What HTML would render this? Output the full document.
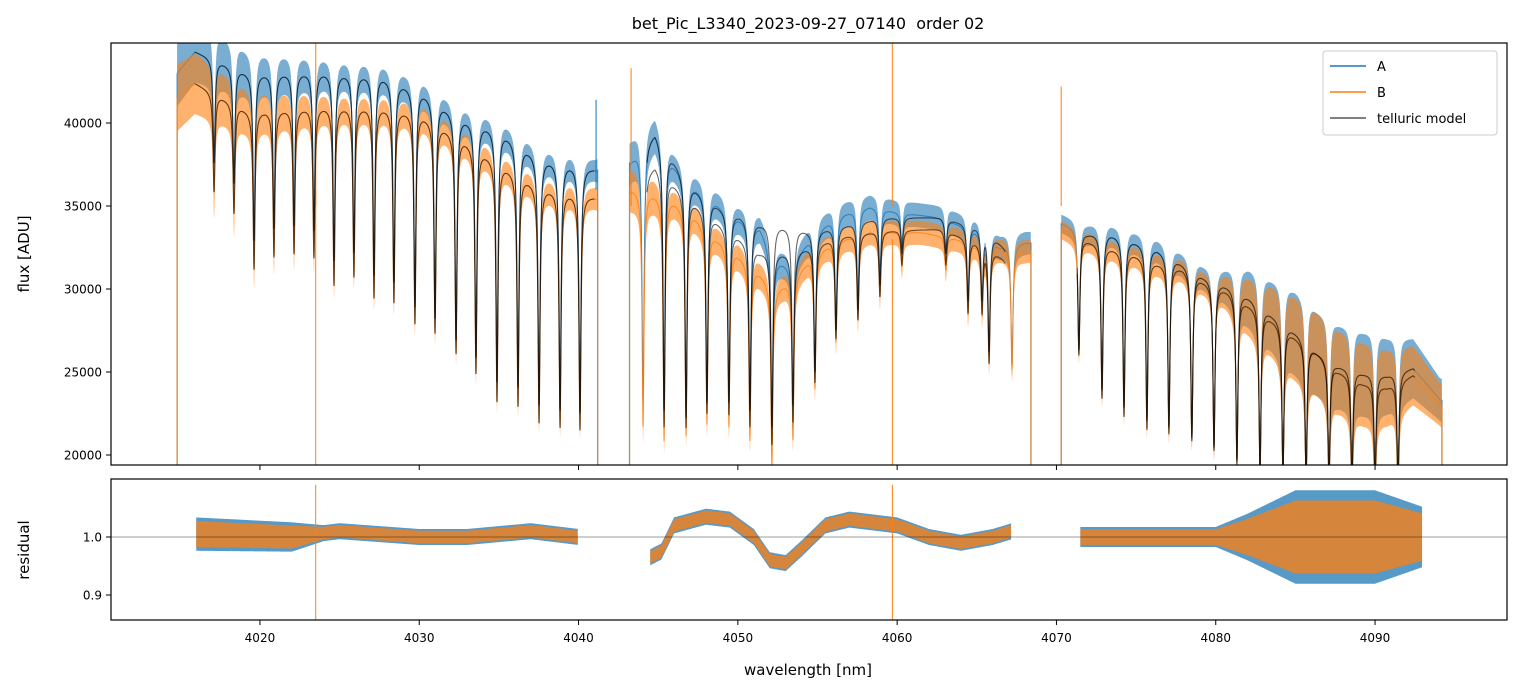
<!DOCTYPE html>
<html><head><meta charset="utf-8"><style>
html,body{margin:0;padding:0;background:#fff;}
svg{display:block;font-family:"DejaVu Sans","Liberation Sans",sans-serif;}
</style></head><body>
<svg id="chart" width="1520" height="696" viewBox="0 0 1520 696" xmlns="http://www.w3.org/2000/svg">
<defs>
<clipPath id="clipTop"><rect x="111" y="43" width="1396" height="422"/></clipPath>
<clipPath id="clipBot"><rect x="111" y="479" width="1396" height="141"/></clipPath>
</defs>
<rect width="1520" height="696" fill="#fff"/>
<text x="808" y="29" text-anchor="middle" font-size="16" fill="#000" style="white-space:pre">bet_Pic_L3340_2023-09-27_07140&#160; order 02</text>
<g id="topData" clip-path="url(#clipTop)"></g>
<g id="botData" clip-path="url(#clipBot)"></g>
<g id="axes"></g>
<text transform="translate(29,254) rotate(-90)" text-anchor="middle" font-size="15">flux [ADU]</text>
<text transform="translate(29,550) rotate(-90)" text-anchor="middle" font-size="15">residual</text>
<text x="808" y="675" text-anchor="middle" font-size="15">wavelength [nm]</text>
<g>
<rect x="1323" y="51" width="174" height="84" rx="3" fill="#fff" fill-opacity="0.8" stroke="#ccc"/>
<line x1="1330" y1="66" x2="1366" y2="66" stroke="#1f77b4" stroke-width="1.5"/>
<text x="1377" y="71" font-size="13">A</text>
<line x1="1330" y1="92" x2="1366" y2="92" stroke="#ff7f0e" stroke-width="1.5"/>
<text x="1377" y="97" font-size="13">B</text>
<line x1="1330" y1="118" x2="1366" y2="118" stroke="#555" stroke-width="1.5"/>
<text x="1377" y="123" font-size="13">telluric model</text>
</g>
</svg>
<script>
// ---- data ----
const dataSegments = [[4014.8,4041.2],[4043.2,4068.4],[4070.3,4094.2]];
const modelSegments = [[4015.9,4041.0],[4044.3,4066.8],[4071.3,4092.5]];
const lineWl = [4017.12,4018.37,4019.63,4020.88,4022.14,4023.39,4024.65,4025.9,4027.16,4028.41,4029.73,4030.99,4032.31,4033.56,4034.88,4036.2,4037.52,4038.84,4040.09,
 4044.05,4045.37,4046.75,4048.06,4049.44,4050.76,4052.14,4053.46,4054.84,4056.16,4057.54,4058.92,4060.3,4063.06,4064.45,4065.33,4065.77,4067.21,
 4071.41,4072.86,4074.24,4075.68,4077.06,4078.5,4079.89,4081.33,4082.78,4084.22,4085.67,4087.11,4088.55,4090.0,4091.44];
const lineMin = [37600,36400,32950,33700,33850,33550,31750,32230,30850,30420,28920,28250,26930,25900,24400,24100,23000,22700,22530,
 23310,22710,22290,23130,23190,22710,21690,23010,25000,27530,28730,30240,32170,32170,29340,29520,26330,25300,
 26330,23920,22890,22110,21690,21080,20480,19700,19000,18800,18600,18500,18500,18500,18500];
const modelAWl = [4014.8,4015.92,4019.38,4023.77,4027.54,4030.05,4032.56,4035.07,4037.58,4041.16,4043.1,4044.8,4047.0,4048.9,4051.39,4053.27,4054.6,4056.41,4058.92,4062.69,4065.5,4066.8,4068.4,4070.1,4071.92,4073.36,4074.8,4076.31,4077.95,4079.2,4080.7,4082.15,4083.6,4085.1,4086.36,4087.62,4089.25,4090.75,4092.39,4094.1];
const modelAVal = [43000,44300,43000,43100,42900,42000,40400,39600,37950,37200,37500,39580,36400,35000,34000,33800,33500,33800,34300,34300,33700,32500,33000,34040,33370,33370,32950,32470,31570,30840,30240,29520,28430,27350,26200,25420,24940,24820,25240,23310];
const modelBWl = [4014.8,4015.92,4019.38,4023.77,4027.54,4030.05,4032.56,4035.07,4037.58,4041.16,4043.1,4044.8,4047.0,4048.9,4051.39,4053.27,4054.6,4056.41,4058.92,4062.69,4065.5,4066.8,4068.4,4070.1,4071.92,4073.36,4074.8,4076.31,4077.95,4079.2,4080.7,4082.15,4083.6,4085.1,4086.36,4087.62,4089.25,4090.75,4092.39,4094.1];
const modelBVal = [41500,42400,40700,41000,41000,40600,39200,37600,36200,35500,36000,37600,35500,34000,32300,32200,32600,33200,33500,33600,32700,31800,32300,33670,32950,32530,32170,31630,31270,30540,29940,29040,28130,27050,26200,25120,24340,24100,24820,23010];
const dataAWl = [4043.1,4044.8,4045.74,4047.0,4048.57,4049.82,4051.39,4052.33,4053.27,4054.84,4056.41,4058.3,4060.18,4062.69,4065.2,4066.46,4068.03];
const dataAVal = [37500,39580,37900,36450,35360,34460,33800,31800,31500,33500,34500,35000,34600,34300,33500,32600,32800];
const dataBWl = [4043.1,4044.1,4045.74,4047.0,4048.57,4049.82,4051.39,4052.33,4053.27,4054.84,4056.41,4058.3,4061.5,4064.0,4065.9,4068.03];
const dataBVal = [36000,36000,35500,34800,33200,32300,31000,30000,30500,32200,33000,33500,33400,33000,32500,32300];
const noiseWl = [4014.8,4020,4025,4041,4043,4046,4068,4070,4080,4082,4085,4090,4094];
const noiseVal = [2000,1200,800,650,1300,800,700,550,700,1700,2500,2500,1300];
const residSegments = [[4016.0,4040.0],[4044.5,4067.2],[4071.5,4093.0]];
const residWl = [4016,4022,4025,4030,4033,4037,4040,4044.5,4045.2,4046,4048,4049.5,4051,4052,4053,4054,4055.5,4057,4060,4062,4064,4066,4067.2,4071.5,4080,4093];
const residVal = [1.005,1.0,1.01,1.0,1.0,1.01,1.0,0.965,0.975,1.02,1.035,1.03,1.0,0.96,0.955,0.98,1.02,1.03,1.02,1.0,0.99,1.0,1.01,1.0,1.0,1.0];
const residNoiseWl = [4016,4022,4024,4040,4044.5,4067,4071.5,4080,4082,4085,4090,4093];
const residNoiseVal = [0.025,0.022,0.012,0.012,0.012,0.012,0.015,0.015,0.035,0.07,0.07,0.045];
const spikeWl = [4023.5,4059.7,4070.3,4043.3,4041.1];
const spikeTop = [46000,46000,42200,43300,41400];
const spikeSeries = ['B','B','B','B','A'];
const xTicks = [4020,4030,4040,4050,4060,4070,4080,4090];
const yTicks = [20000,25000,30000,35000,40000];
const rTicks = [0.9,1.0];

// ---- axes ----
const X = w => 111 + (w - 4010.65) * 15.93;
const YT = f => 123 + (40000 - f) * 0.0166;
const YR = r => 537 + (1 - r) * 580;
function interp(xs, ys, x){
  if (x <= xs[0]) return ys[0];
  for (let i=1;i<xs.length;i++) if (x <= xs[i]) { const t=(x-xs[i-1])/(xs[i]-xs[i-1]); return ys[i-1]+t*(ys[i]-ys[i-1]); }
  return ys[ys.length-1];
}
const NS='http://www.w3.org/2000/svg';
function mk(tag, attrs, parent){ const e=document.createElementNS(NS,tag); for(const k in attrs) e.setAttribute(k,attrs[k]); parent.appendChild(e); return e; }
const depth = lineWl.map((w,i)=> 1 - lineMin[i]/interp(modelAWl,modelAVal,w));
function trans(w){ let t=1; for(let i=0;i<lineWl.length;i++){ const d=(w-lineWl[i])/0.075; if(Math.abs(d)<40) t*= 1 - depth[i]/(1+d*d); } return Math.max(t,0); }
function contA(w){ return (w>4043 && w<4068.5) ? interp(dataAWl,dataAVal,w) : interp(modelAWl,modelAVal,w); }
function contB(w){ return (w>4043 && w<4068.5) ? interp(dataBWl,dataBVal,w) : interp(modelBWl,modelBVal,w); }
const topG = document.getElementById('topData'), botG = document.getElementById('botData');
const step = 0.012;
function drawSeries(name, contFn, color){
  dataSegments.forEach((s,si)=>{
    let up=[], lo=[], mid=[];
    for(let w=s[0]; w<=s[1]; w+=step){
      const f = contFn(w)*trans(w), n = interp(noiseWl,noiseVal,w)*Math.pow(trans(w),0.3);
      const x=X(w).toFixed(2);
      up.push(x+','+YT(f+n).toFixed(2)); lo.push(x+','+YT(f-n).toFixed(2)); mid.push(x+','+YT(f).toFixed(2));
    }
    const band = mk('polygon',{points: up.concat(lo.reverse()).join(' '), fill: color, 'fill-opacity':0.6}, topG);
    
    
    const pl = mk('polyline',{points: mid.join(' '), fill:'none', stroke: color, 'stroke-width':1, 'stroke-opacity':0.85}, topG);
    
    
    [s[0],s[1]].forEach(w=>{ const e=mk('line',{x1:X(w),x2:X(w),y1:YT(contFn(w)),y2:470,stroke:color,'stroke-width':1.2,'stroke-opacity':0.8},topG);
      
       });
  });
}
drawSeries('a', contA, '#1f77b4');
drawSeries('b', contB, '#ff7f0e');
spikeWl.forEach((w,i)=>{
  const e = mk('line',{x1:X(w),x2:X(w),y1:YT(spikeTop[i]),y2:YT(spikeSeries[i]=='A'?36000:35000),stroke: spikeSeries[i]=='A'?'#1f77b4':'#ff7f0e','stroke-width':1.2,'stroke-opacity':0.85}, topG);
  
  
});
const s0 = mk('line',{x1:X(4023.5),x2:X(4023.5),y1:YT(36000),y2:470,stroke:'#ff7f0e','stroke-width':1},topG);


const s1 = mk('line',{x1:X(4059.7),x2:X(4059.7),y1:YT(33000),y2:470,stroke:'#ff7f0e','stroke-width':1},topG);


['A','B'].forEach(k=>{
  modelSegments.forEach((s,si)=>{
    const pts=[];
    for(let w=s[0]; w<=s[1]; w+=step){ const c = k=='A'?interp(modelAWl,modelAVal,w):interp(modelBWl,modelBVal,w); pts.push(X(w).toFixed(2)+','+YT(c*trans(w)).toFixed(2)); }
    const pl = mk('polyline',{points:pts.join(' '),fill:'none',stroke:'#000','stroke-width':1.1,'stroke-opacity':0.6},topG);
    
    
  });
});
// residuals
[['a','#1f77b4',1.15],['b','#ff7f0e',0.9]].forEach(([name,color,sc])=>{
  residSegments.forEach((s,si)=>{
    let up=[],lo=[];
    for(let w=s[0]; w<=s[1]; w+=0.05){ const r=interp(residWl,residVal,w), n=interp(residNoiseWl,residNoiseVal,w)*sc; const x=X(w).toFixed(2);
      up.push(x+','+YR(r+n).toFixed(2)); lo.push(x+','+YR(r-n).toFixed(2)); }
    const p = mk('polygon',{points:up.concat(lo.reverse()).join(' '),fill:color,'fill-opacity':0.75},botG);
    
    
  });
});
[4023.5,4059.7].forEach((w,i)=>{ const e=mk('line',{x1:X(w),x2:X(w),y1:YR(1.09),y2:625,stroke:'#ff7f0e','stroke-width':1},botG);
  
   });
const ref = mk('line',{x1:111,x2:1507,y1:YR(1),y2:YR(1),stroke:'#000','stroke-width':0.8,'stroke-opacity':0.5},botG);


// axes frames and ticks
const ax = document.getElementById('axes');
const f1 = mk('rect',{x:111,y:43,width:1396,height:422,fill:'none',stroke:'#000','stroke-width':1.2},ax);


const f2 = mk('rect',{x:111,y:479,width:1396,height:141,fill:'none',stroke:'#000','stroke-width':1.2},ax);


xTicks.forEach(t=>{
  const x=X(t);
  mk('line',{x1:x,x2:x,y1:465,y2:470,stroke:'#000','stroke-width':1},ax);
  mk('line',{x1:x,x2:x,y1:620,y2:625,stroke:'#000','stroke-width':1},ax);
  const tx = mk('text',{x:x,y:642,'text-anchor':'middle','font-size':12},ax);
  tx.textContent=t;
  
  
});
yTicks.forEach(t=>{
  const y=YT(t);
  mk('line',{x1:106,x2:111,y1:y,y2:y,stroke:'#000','stroke-width':1},ax);
  const tx = mk('text',{x:102,y:y+4.5,'text-anchor':'end','font-size':12},ax);
  tx.textContent=t;
  
  
});
rTicks.forEach(t=>{
  const y=YR(t);
  mk('line',{x1:106,x2:111,y1:y,y2:y,stroke:'#000','stroke-width':1},ax);
  const tx = mk('text',{x:102,y:y+4.5,'text-anchor':'end','font-size':12},ax);
  tx.textContent=t.toFixed(1);
  
  
});
</script>
</body></html>
